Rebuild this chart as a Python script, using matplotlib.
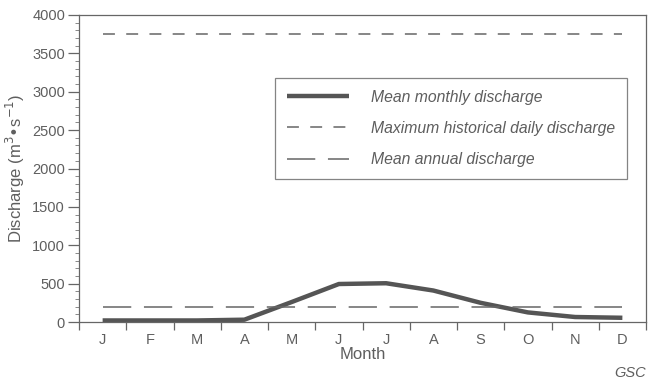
import matplotlib
matplotlib.use("Agg")
import matplotlib.pyplot as plt
from matplotlib.lines import Line2D
import numpy as np

months = ["J", "F", "M", "A", "M", "J", "J", "A", "S", "O", "N", "D"]
mean_monthly = [20, 20, 20, 30, 260, 495, 505, 410, 250, 125, 65, 55]
max_daily = 3755
mean_annual = 190

text_color = "#5e5e5e"
line_color = "#555555"
plt.rcParams["font.family"] = ["Liberation Sans", "DejaVu Sans"]

fig = plt.figure(figsize=(6.48, 3.84), dpi=100)
ax = fig.add_axes([79 / 648, 62 / 384, 567 / 648, 307 / 384])

x = np.arange(len(months)) + 0.5
ax.plot(x, mean_monthly, color=line_color, lw=3.2, solid_capstyle="butt",
        solid_joinstyle="round")
ax.plot([x[0], x[-1]], [max_daily] * 2, color="#666666", lw=1.1,
        dashes=(7.8, 7.4))
ax.plot([x[0], x[-1]], [mean_annual] * 2, color="#666666", lw=1.1,
        dashes=(18.5, 8.3))

ax.set_xlim(0, 12)
ax.set_ylim(0, 4000)

ax.set_xticks(np.arange(0, 13))
ax.set_xticklabels([])
ax.set_xticks(x, minor=True)
ax.set_xticklabels(months, minor=True)
ax.tick_params(axis="x", which="major", direction="out", length=6,
               width=0.9, color="#666666")
ax.tick_params(axis="x", which="minor", length=0, pad=8,
               labelsize=10.5, labelcolor=text_color)

ax.set_yticks(np.arange(0, 4001, 500))
ax.set_yticks(np.arange(0, 4001, 100), minor=True)
ax.tick_params(axis="y", which="major", direction="out", length=8,
               width=0.9, color="#666666", labelsize=10.5,
               labelcolor=text_color, pad=2)
ax.tick_params(axis="y", which="minor", direction="out", length=3,
               width=0.7, color="#888888")

for s in ax.spines.values():
    s.set_color("#666666")
    s.set_linewidth(0.9)

ax.set_ylabel("Discharge (m$^3$\u2022s$^{-1}$)", fontsize=12,
              color=text_color, labelpad=4)
ax.set_xlabel("Month", fontsize=12, color=text_color, labelpad=0)

handles = [
    Line2D([], [], color=line_color, lw=3.2, solid_capstyle="butt"),
    Line2D([], [], color="#666666", lw=1.1, dashes=(7.8, 7.4)),
    Line2D([], [], color="#666666", lw=1.1, dashes=(18.5, 8.3)),
]
labels = ["Mean monthly discharge",
          "Maximum historical daily discharge",
          "Mean annual discharge"]
leg = ax.legend(handles, labels, loc="upper left",
                bbox_to_anchor=(275 / 648, 1 - 78 / 384),
                bbox_transform=fig.transFigure,
                frameon=True, fancybox=False, edgecolor="#666666",
                handlelength=3.95, handletextpad=1.4, borderpad=0.75,
                labelspacing=1.03, borderaxespad=0,
                prop={"style": "italic", "size": 11.3})
leg.get_frame().set_linewidth(0.9)
for t in leg.get_texts():
    t.set_color(text_color)

fig.text(646 / 648, 1 - 373 / 384, "GSC", ha="right", va="center",
         style="italic", fontsize=10.5, color=text_color)

fig.savefig("out.png", dpi=100)
